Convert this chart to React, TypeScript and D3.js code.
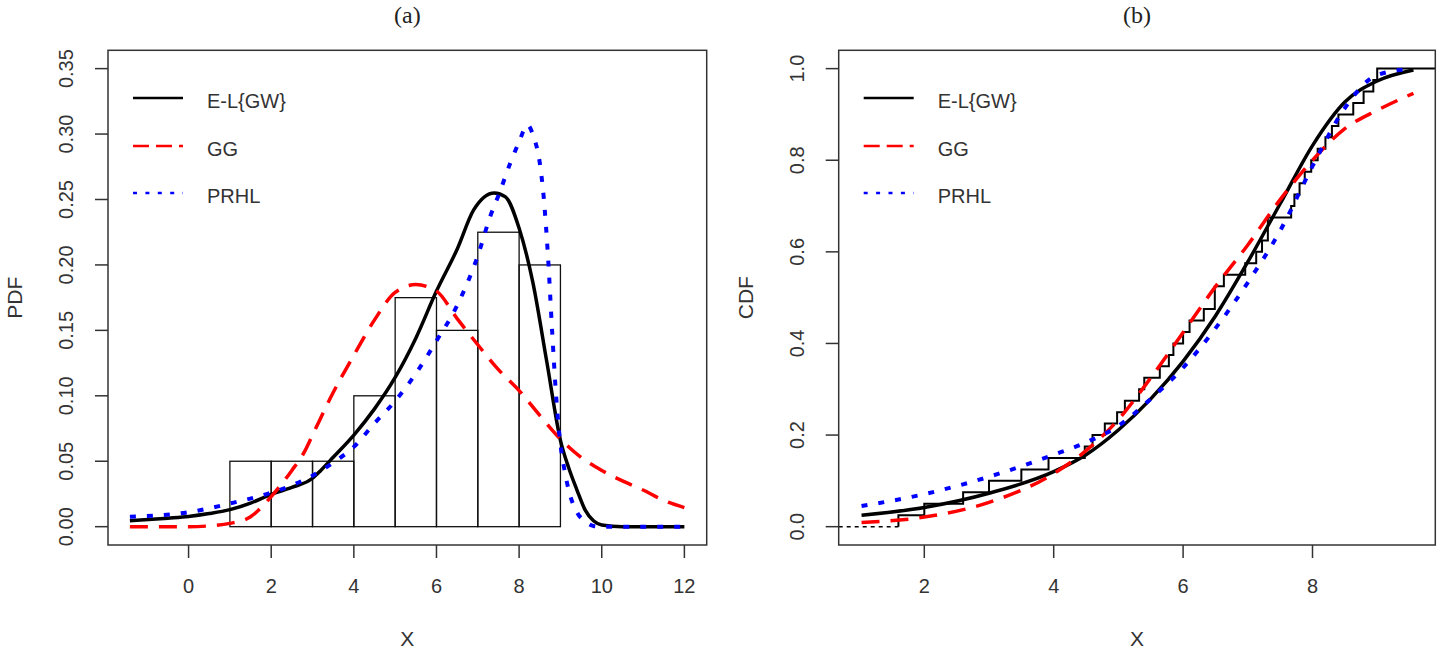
import * as React from 'react';
import {useEffect, useRef} from 'react';
import * as d3 from 'd3';

type Pt = [number, number];

// histogram of the sample: bin edges and densities
const binEdges = [1, 2, 3, 4, 5, 6, 7, 8, 9];
const binDensity = [0.05, 0.05, 0.05, 0.10, 0.175, 0.15, 0.225, 0.20];

// sorted sample (n = 40)
const sample = [
  1.6, 2.0, 2.6, 3.0, 3.5, 3.92, 4.48, 4.6, 4.79, 4.98,
  5.1, 5.32, 5.4, 5.64, 5.78, 5.85, 6.0, 6.1, 6.32, 6.49,
  6.49, 6.63, 6.96, 7.13, 7.22, 7.31, 7.31, 7.67, 7.72, 7.8,
  7.88, 7.98, 8.08, 8.2, 8.3, 8.4, 8.63, 8.79, 8.94, 9.0,
];

// fitted densities
const pdfELGW: Pt[] = [
  [-1.42, 0.0045], [-0.5, 0.0065], [0, 0.0078], [0.5, 0.010], [1, 0.013], [1.5, 0.018],
  [2, 0.0247], [2.5, 0.030], [3, 0.037], [3.2, 0.043], [3.5, 0.053], [4, 0.070],
  [4.5, 0.090], [5, 0.114], [5.5, 0.144], [6, 0.180], [6.5, 0.212], [6.9, 0.242],
  [7.4, 0.255], [7.67, 0.252], [8, 0.228], [8.33, 0.187], [8.67, 0.126], [9, 0.066],
  [9.2, 0.045], [9.4, 0.028], [9.6, 0.0126], [9.8, 0.0045], [10, 0.0013], [10.5, 0], [12, 0],
];
const pdfGG: Pt[] = [
  [-1.42, 0], [0, 0], [0.5, 0.0006], [1, 0.0025], [1.5, 0.0076], [2, 0.023],
  [2.5, 0.043], [2.8, 0.057], [3, 0.070], [3.5, 0.1025], [4, 0.131], [4.5, 0.158],
  [5, 0.179], [5.5, 0.185], [6, 0.180], [6.5, 0.159], [7, 0.139], [7.5, 0.120],
  [8, 0.104], [8.5, 0.085], [9, 0.067], [9.5, 0.053], [10, 0.043], [10.5, 0.035],
  [11, 0.028], [11.5, 0.020], [12, 0.0146],
];
const pdfPRHL: Pt[] = [
  [-1.42, 0.0076], [0, 0.011], [1, 0.0177], [2, 0.026], [2.5, 0.0316], [3, 0.039],
  [3.5, 0.049], [4, 0.061], [4.5, 0.079], [5, 0.096], [5.5, 0.117], [6, 0.142],
  [6.5, 0.169], [7, 0.207], [7.3, 0.237], [7.5, 0.253], [7.8, 0.279], [8, 0.294],
  [8.2, 0.307], [8.35, 0.298], [8.5, 0.278], [8.6, 0.250], [8.7, 0.206], [8.8, 0.149],
  [8.9, 0.098], [9, 0.063], [9.1, 0.043], [9.2, 0.028], [9.4, 0.011], [9.6, 0.004],
  [9.8, 0.0005], [10, 0], [12, 0],
];

// fitted distribution functions
const cdfELGW: Pt[] = [
  [1.03, 0.025], [2, 0.042], [3, 0.073], [4, 0.120], [4.5, 0.157], [5, 0.211],
  [5.5, 0.279], [6, 0.361], [6.5, 0.460], [7, 0.578], [7.5, 0.705], [8, 0.832],
  [8.5, 0.927], [9, 0.973], [9.56, 0.997],
];
const cdfGG: Pt[] = [
  [1.03, 0.009], [2, 0.021], [3, 0.053], [4, 0.116], [4.5, 0.166], [5, 0.234],
  [5.5, 0.325], [6, 0.424], [6.5, 0.524], [7, 0.615], [7.5, 0.714], [8, 0.800],
  [8.5, 0.869], [9, 0.909], [9.56, 0.946],
];
const cdfPRHL: Pt[] = [
  [1.03, 0.045], [2, 0.071], [3, 0.109], [4, 0.157], [4.5, 0.184], [5, 0.220],
  [5.5, 0.279], [6, 0.347], [6.5, 0.433], [7, 0.533], [7.5, 0.646], [8, 0.787],
  [8.5, 0.914], [9, 0.986], [9.56, 1.0],
];

const legendLabels = ['E-L{GW}', 'GG', 'PRHL'];
const pdfTicksX = [0, 2, 4, 6, 8, 10, 12];
const pdfTicksY = [0, 0.05, 0.1, 0.15, 0.2, 0.25, 0.3, 0.35];
const cdfTicksX = [2, 4, 6, 8];
const cdfTicksY = [0, 0.2, 0.4, 0.6, 0.8, 1.0];

const W = 1440;
const H = 651;
const sans = '"Liberation Sans", Arial, sans-serif';

const styles = [
  {color: '#000', dash: null, legDash: null, width: 3.5, legWidth: 2.6},
  {color: '#ff0000', dash: '18 11', legDash: '16 7', width: 3.5, legWidth: 2.6},
  {color: '#0000ff', dash: '6 11', legDash: '4 8.4', width: 4, legWidth: 2.6},
];

interface PanelOpts {
  left: number, right: number, top: number, bottom: number,
  xDomain: [number, number], yDomain: [number, number],
  xTicks: number[], yTicks: number[], yFormat: (v: number) => string,
  title: string, yLabel: string, curves: Pt[][],
}

const drawPanel = (svg: d3.Selection<SVGSVGElement, unknown, null, undefined>, o: PanelOpts,
                   extra: (g: d3.Selection<SVGGElement, unknown, null, undefined>,
                           x: d3.ScaleLinear<number, number>, y: d3.ScaleLinear<number, number>) => void) => {
  const x = d3.scaleLinear().domain(o.xDomain).range([o.left, o.right]);
  const y = d3.scaleLinear().domain(o.yDomain).range([o.bottom, o.top]);
  const g = svg.append('g');

  extra(g, x, y);

  const line = d3.line<Pt>().x(d => x(d[0])).y(d => y(d[1])).curve(d3.curveMonotoneX);
  o.curves.forEach((c, i) => {
    g.append('path')
      .attr('d', line(c))
      .attr('fill', 'none')
      .attr('stroke', styles[i].color)
      .attr('stroke-width', styles[i].width)
      .attr('stroke-dasharray', styles[i].dash)
      .attr('stroke-linejoin', 'round');
  });

  // box
  g.append('rect')
    .attr('x', o.left).attr('y', o.top)
    .attr('width', o.right - o.left).attr('height', o.bottom - o.top)
    .attr('fill', 'none').attr('stroke', '#333').attr('stroke-width', 1.5);

  // x axis
  const xa = g.append('g');
  xa.selectAll('line').data(o.xTicks).join('line')
    .attr('x1', d => x(d)).attr('x2', d => x(d))
    .attr('y1', o.bottom).attr('y2', o.bottom + 13)
    .attr('stroke', '#333').attr('stroke-width', 1.5);
  xa.selectAll('text').data(o.xTicks).join('text')
    .attr('x', d => x(d)).attr('y', 593)
    .attr('text-anchor', 'middle')
    .style('font', `20px ${sans}`).attr('fill', '#333')
    .text(d => String(d));

  // y axis
  const ya = g.append('g');
  ya.selectAll('line').data(o.yTicks).join('line')
    .attr('x1', o.left - 13).attr('x2', o.left)
    .attr('y1', d => y(d)).attr('y2', d => y(d))
    .attr('stroke', '#333').attr('stroke-width', 1.5);
  ya.selectAll('text').data(o.yTicks).join('text')
    .attr('transform', d => `translate(${o.left - 35},${y(d)}) rotate(-90)`)
    .attr('text-anchor', 'middle')
    .style('font', `20px ${sans}`).attr('fill', '#333')
    .text(d => o.yFormat(d));

  // titles
  const cx = (o.left + o.right) / 2;
  g.append('text')
    .attr('x', cx).attr('y', 23).attr('text-anchor', 'middle')
    .style('font', '24px "Liberation Serif", "DejaVu Serif", serif').attr('fill', '#222')
    .text(o.title);
  g.append('text')
    .attr('x', cx).attr('y', 646).attr('text-anchor', 'middle')
    .style('font', `21px ${sans}`).attr('fill', '#333')
    .text('X');
  g.append('text')
    .attr('transform', `translate(${o.left - 86},${(o.top + o.bottom) / 2}) rotate(-90)`)
    .attr('text-anchor', 'middle')
    .style('font', `21px ${sans}`).attr('fill', '#333')
    .text(o.yLabel);

  // legend
  const lx = o.left + 25;
  const ly = [98, 146, 193];
  legendLabels.forEach((lab, i) => {
    g.append('line')
      .attr('x1', lx).attr('x2', lx + 50).attr('y1', ly[i]).attr('y2', ly[i])
      .attr('stroke', styles[i].color)
      .attr('stroke-width', styles[i].legWidth)
      .attr('stroke-dasharray', styles[i].legDash);
    g.append('text')
      .attr('x', lx + 74).attr('y', ly[i] + 10)
      .style('font', `20px ${sans}`).attr('fill', '#333')
      .text(lab);
  });
};

const App = () => {
  const ref = useRef<SVGSVGElement>(null);

  useEffect(() => {
    const svg = d3.select(ref.current!);
    svg.selectAll('*').remove();

    // (a) histogram + densities
    drawPanel(svg, {
      left: 108, right: 706.7, top: 50.3, bottom: 545,
      xDomain: [-1.95, 12.54], yDomain: [-0.014, 0.364],
      xTicks: pdfTicksX, yTicks: pdfTicksY, yFormat: d3.format('.2f'),
      title: '(a)', yLabel: 'PDF', curves: [pdfELGW, pdfGG, pdfPRHL],
    }, (g, x, y) => {
      g.append('g').selectAll('rect').data(binDensity).join('rect')
        .attr('x', (d, i) => x(binEdges[i]))
        .attr('width', (d, i) => x(binEdges[i + 1]) - x(binEdges[i]))
        .attr('y', d => y(d))
        .attr('height', d => y(0) - y(d))
        .attr('fill', 'none')
        .attr('stroke', '#111')
        .attr('stroke-width', 1.3);
    });

    // (b) empirical CDF + fitted CDFs
    drawPanel(svg, {
      left: 838.7, right: 1435.3, top: 50.3, bottom: 545,
      xDomain: [0.677, 9.898], yDomain: [-0.04, 1.04],
      xTicks: cdfTicksX, yTicks: cdfTicksY, yFormat: d3.format('.1f'),
      title: '(b)', yLabel: 'CDF', curves: [cdfELGW, cdfGG, cdfPRHL],
    }, (g, x, y) => {
      const n = sample.length;
      const pts: Pt[] = [[sample[0], 0], ...sample.map((s, i) => [s, (i + 1) / n] as Pt), [9.898, 1]];
      const step = d3.line<Pt>().x(d => x(d[0])).y(d => y(d[1])).curve(d3.curveStepAfter);
      g.append('path')
        .attr('d', step(pts))
        .attr('fill', 'none').attr('stroke', '#000').attr('stroke-width', 2);
      g.append('line')
        .attr('x1', x(0.677)).attr('x2', x(sample[0]))
        .attr('y1', y(0)).attr('y2', y(0))
        .attr('stroke', '#000').attr('stroke-width', 1.5)
        .attr('stroke-dasharray', '4 4');
    });
  }, []);

  return (
    <svg ref={ref} width={W} height={H}
         style={{position: 'absolute', left: 0, top: 0, background: '#fff'}}/>
  );
};

export default App;
